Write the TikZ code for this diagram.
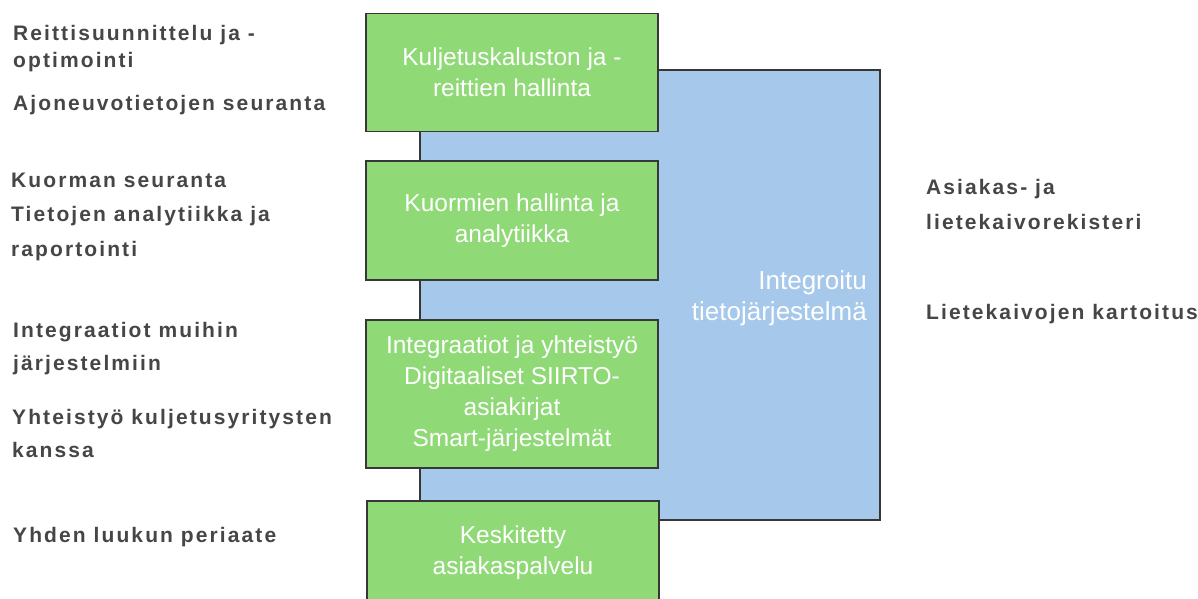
\documentclass[tikz,border=0pt]{standalone}
\usepackage{fontspec}
\setmainfont{Liberation Sans}
\newfontfamily\lfont[LetterSpace=10]{Liberation Sans Bold}
\definecolor{boxgreen}{RGB}{143,217,118}
\definecolor{boxblue}{RGB}{166,200,234}
\definecolor{edgegray}{RGB}{55,55,55}
\definecolor{textgray}{RGB}{70,70,70}
\tikzset{
  greenbox/.style={draw=edgegray, line width=1.4pt, fill=boxgreen, text=white,
    minimum width=292pt, align=center, inner sep=0pt,
    font=\fontsize{24.5}{31}\selectfont},
  bluebox/.style={draw=edgegray, line width=1.4pt, fill=boxblue,
    minimum width=460pt, minimum height=450pt, inner sep=0pt},
  bluetext/.style={text=white, align=right, anchor=east, inner sep=0pt,
    font=\fontsize{26}{31}\selectfont},
  sidetext/.style={text=textgray, align=left, anchor=west, inner sep=0pt},
}
\newcommand{\sidefont}[1]{\lfont\fontsize{21}{#1}\selectfont}
\begin{document}
\begin{tikzpicture}[x=1pt,y=-1pt]
\useasboundingbox[fill=white] (0,0) rectangle (1198,598);
% integrated system block (behind)
\node[bluebox] (its) at (650,295) {};
\node[bluetext] (itstext) at (867,298) {Integroitu\\tietojärjestelmä};
% green boxes
\node[greenbox, minimum height=118pt] (g1) at (512,72.5) {Kuljetuskaluston ja -\\reittien hallinta};
\node[greenbox, minimum height=119pt] (g2) at (512,220.5) {Kuormien hallinta ja\\analytiikka};
\node[greenbox, minimum height=148pt] (g3) at (512,394) {Integraatiot ja yhteistyö\\Digitaaliset SIIRTO-\\asiakirjat\\Smart-järjestelmät};
\node[greenbox, minimum height=104pt] (g4) at (513,553) {Keskitetty\\asiakaspalvelu};
% left texts
\node[sidetext, font=\sidefont{27}] (l1) at (13,49) {Reittisuunnittelu ja -\\optimointi};
\node[sidetext, font=\sidefont{22}] (l2) at (13,105) {Ajoneuvotietojen seuranta};
\node[sidetext, font=\sidefont{22}] (l3) at (11,180) {Kuorman seuranta};
\node[sidetext, font=\sidefont{35}] (l4) at (11,234) {Tietojen analytiikka ja\\raportointi};
\node[sidetext, font=\sidefont{33}] (l5) at (13,349) {Integraatiot muihin\\järjestelmiin};
\node[sidetext, font=\sidefont{33}] (l6) at (12,433) {Yhteistyö kuljetusyritysten\\kanssa};
\node[sidetext, font=\sidefont{22}] (l7) at (13,537) {Yhden luukun periaate};
% right texts
\node[sidetext, font=\sidefont{35}] (r1) at (926,204) {Asiakas- ja\\lietekaivorekisteri};
\node[sidetext, font=\sidefont{22}] (r2) at (926,314) {Lietekaivojen kartoitus};
\end{tikzpicture}
\end{document}
